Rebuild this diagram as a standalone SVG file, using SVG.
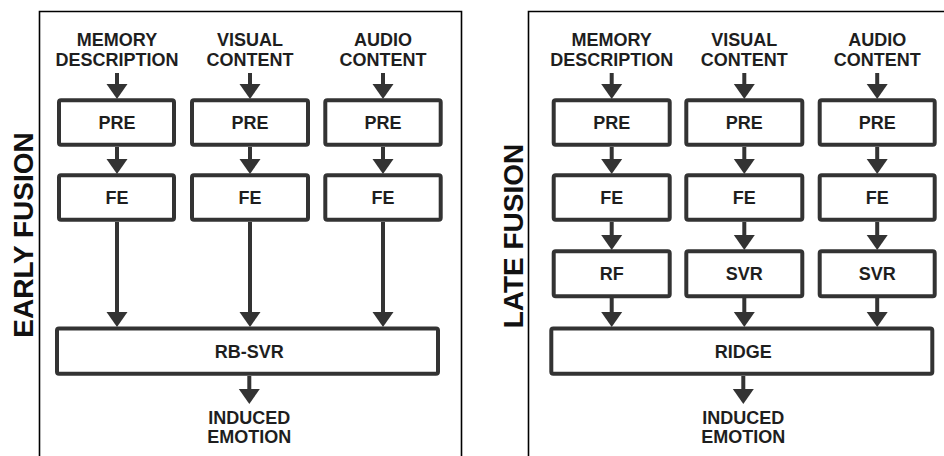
<svg xmlns="http://www.w3.org/2000/svg" width="944" height="456" viewBox="0 0 944 456">
<style>
.frame{fill:none;stroke:#000;stroke-width:1.6}
.box{fill:#fff;stroke:#333;stroke-width:4;rx:2}
.lbl{font-family:"Liberation Sans",Arial,sans-serif;font-weight:bold;font-size:18px;fill:#1e1e1e;text-anchor:middle}
.side{font-family:"Liberation Sans",Arial,sans-serif;font-weight:bold;font-size:28px;fill:#111;text-anchor:middle}
.conn line{stroke:#333;stroke-width:4;marker-end:url(#ah)}
</style>
<defs>
<marker id="ah" markerUnits="userSpaceOnUse" markerWidth="16" markerHeight="22" viewBox="0 -11 16 22" refX="0" refY="0" orient="auto">
<path d="M0,-10.5 L15,0 L0,10.5 Z" fill="#333"/>
</marker>
</defs>
<rect width="944" height="456" fill="#fff"/>
<g id="frames">
<path class="frame" d="M39.5,460 V11.5 H461.5 V460"/>
<path class="frame" d="M528.5,460 V11.5 H950"/>
</g>
<text class="side" transform="translate(33,235) rotate(-90)">EARLY FUSION</text>
<text class="side" transform="translate(523,236) rotate(-90)">LATE FUSION</text>

<g id="inputs-left">
<text class="lbl" x="117" y="46">MEMORY</text><text class="lbl" x="117" y="65.7">DESCRIPTION</text>
<text class="lbl" x="250" y="46">VISUAL</text><text class="lbl" x="250" y="65.7">CONTENT</text>
<text class="lbl" x="383" y="46">AUDIO</text><text class="lbl" x="383" y="65.7">CONTENT</text>
</g>
<g id="inputs-right">
<text class="lbl" x="611.7" y="46">MEMORY</text><text class="lbl" x="611.7" y="65.7">DESCRIPTION</text>
<text class="lbl" x="744.3" y="46">VISUAL</text><text class="lbl" x="744.3" y="65.7">CONTENT</text>
<text class="lbl" x="877.2" y="46">AUDIO</text><text class="lbl" x="877.2" y="65.7">CONTENT</text>
</g>

<g class="conn" id="connectors">
<line x1="117" y1="73" x2="117" y2="84"/>
<line x1="250" y1="73" x2="250" y2="84"/>
<line x1="383" y1="73" x2="383" y2="84"/>
<line x1="117" y1="147" x2="117" y2="159"/>
<line x1="250" y1="147" x2="250" y2="159"/>
<line x1="383" y1="147" x2="383" y2="159"/>
<line x1="117" y1="222" x2="117" y2="312"/>
<line x1="250" y1="222" x2="250" y2="312"/>
<line x1="383" y1="222" x2="383" y2="312"/>
<line x1="249.3" y1="376" x2="249.3" y2="389"/>

<line x1="611.7" y1="73" x2="611.7" y2="84"/>
<line x1="744.3" y1="73" x2="744.3" y2="84"/>
<line x1="877.2" y1="73" x2="877.2" y2="84"/>
<line x1="611.7" y1="147" x2="611.7" y2="159"/>
<line x1="744.3" y1="147" x2="744.3" y2="159"/>
<line x1="877.2" y1="147" x2="877.2" y2="159"/>
<line x1="611.7" y1="222" x2="611.7" y2="235"/>
<line x1="744.3" y1="222" x2="744.3" y2="235"/>
<line x1="877.2" y1="222" x2="877.2" y2="235"/>
<line x1="611.7" y1="298" x2="611.7" y2="312"/>
<line x1="744.3" y1="298" x2="744.3" y2="312"/>
<line x1="877.2" y1="298" x2="877.2" y2="312"/>
<line x1="743.3" y1="376" x2="743.3" y2="389"/>
</g>

<g id="pre-l1"><rect class="box" x="59" y="100.3" width="115" height="44.4"/><text class="lbl" x="117" y="129.3">PRE</text></g>
<g id="pre-l2"><rect class="box" x="192" y="100.3" width="116" height="44.4"/><text class="lbl" x="250" y="129.3">PRE</text></g>
<g id="pre-l3"><rect class="box" x="325.3" y="100.3" width="115.4" height="44.4"/><text class="lbl" x="383" y="129.3">PRE</text></g>
<g id="fe-l1"><rect class="box" x="59" y="175.3" width="115" height="44.4"/><text class="lbl" x="117" y="204">FE</text></g>
<g id="fe-l2"><rect class="box" x="192" y="175.3" width="116" height="44.4"/><text class="lbl" x="250" y="204">FE</text></g>
<g id="fe-l3"><rect class="box" x="325.3" y="175.3" width="115.4" height="44.4"/><text class="lbl" x="383" y="204">FE</text></g>
<g id="rbsvr"><rect class="box" x="57" y="328.5" width="381" height="45.2"/><text class="lbl" x="249.3" y="357.7">RB-SVR</text></g>
<g id="out-l"><text class="lbl" x="249.3" y="424">INDUCED</text><text class="lbl" x="249.3" y="443.3">EMOTION</text></g>

<g id="pre-r1"><rect class="box" x="553.7" y="100.3" width="116" height="44.4"/><text class="lbl" x="611.7" y="129.3">PRE</text></g>
<g id="pre-r2"><rect class="box" x="686.3" y="100.3" width="116" height="44.4"/><text class="lbl" x="744.3" y="129.3">PRE</text></g>
<g id="pre-r3"><rect class="box" x="819.7" y="100.3" width="115" height="44.4"/><text class="lbl" x="877.2" y="129.3">PRE</text></g>
<g id="fe-r1"><rect class="box" x="553.7" y="175.3" width="116" height="44.4"/><text class="lbl" x="611.7" y="204">FE</text></g>
<g id="fe-r2"><rect class="box" x="686.3" y="175.3" width="116" height="44.4"/><text class="lbl" x="744.3" y="204">FE</text></g>
<g id="fe-r3"><rect class="box" x="819.7" y="175.3" width="115" height="44.4"/><text class="lbl" x="877.2" y="204">FE</text></g>
<g id="rf-r1"><rect class="box" x="553.7" y="251.3" width="116" height="45"/><text class="lbl" x="611.7" y="280">RF</text></g>
<g id="svr-r2"><rect class="box" x="686.3" y="251.3" width="116" height="45"/><text class="lbl" x="744.3" y="280">SVR</text></g>
<g id="svr-r3"><rect class="box" x="819.7" y="251.3" width="115" height="45"/><text class="lbl" x="877.2" y="280">SVR</text></g>
<g id="ridge"><rect class="box" x="551.3" y="328.5" width="381" height="45.2"/><text class="lbl" x="743.3" y="357.7">RIDGE</text></g>
<g id="out-r"><text class="lbl" x="743.3" y="424">INDUCED</text><text class="lbl" x="743.3" y="443.3">EMOTION</text></g>
</svg>
